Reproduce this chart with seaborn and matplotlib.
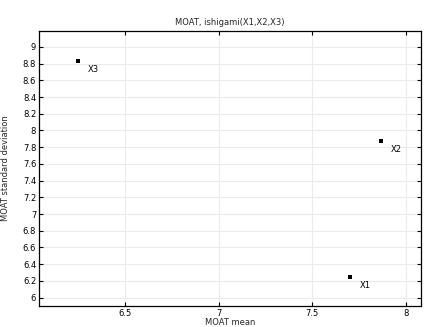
import matplotlib
matplotlib.use("Agg")
import matplotlib.pyplot as plt
import seaborn as sns
import pandas as pd

names = ["X1", "X2", "X3"]
moat_mean = [7.703, 7.866, 6.249]
moat_std = [6.25, 7.877, 8.833]
xticks = [6.5, 7, 7.5, 8]
xticklabels = ["6.5", "7", "7.5", "8"]
yticks = [6, 6.2, 6.4, 6.6, 6.8, 7, 7.2, 7.4, 7.6, 7.8, 8, 8.2, 8.4, 8.6, 8.8, 9]
yticklabels = ["6", "6.2", "6.4", "6.6", "6.8", "7", "7.2", "7.4", "7.6", "7.8", "8", "8.2", "8.4", "8.6", "8.8", "9"]

df = pd.DataFrame({"name": names, "mean": moat_mean, "std": moat_std})

sns.set_theme(style="white")
plt.rcParams['font.family'] = ['DejaVu Sans']

fig = plt.figure(figsize=(4.26, 3.27), dpi=100)
ax = fig.add_axes([39/426, 1 - 306/327, (421-39)/426, (306-31)/327])

sns.scatterplot(data=df, x="mean", y="std", ax=ax, marker="s", s=8,
                color="black", edgecolor="black", linewidth=0, zorder=3)
for n, xv, yv in zip(names, moat_mean, moat_std):
    ax.annotate(n, (xv, yv), xytext=(7, -6), textcoords="offset points",
                fontsize=6, color="black", va="center", ha="left")

ax.set_xlim(6.04, 8.08)
ax.set_ylim(5.9, 9.19)
ax.set_xticks(xticks)
ax.set_xticklabels(xticklabels)
ax.set_yticks(yticks)
ax.set_yticklabels(yticklabels)
ax.grid(True, color="#ebebeb", linewidth=0.8)
ax.set_axisbelow(True)
ax.tick_params(direction="in", length=3, width=0.8, labelsize=6, colors="black",
               top=True, right=True, bottom=True, left=True, pad=2)
for s in ax.spines.values():
    s.set_color("black")
    s.set_linewidth(0.9)
ax.set_xlabel("MOAT mean", fontsize=6, labelpad=0)
ax.set_ylabel("MOAT standard deviation", fontsize=6, labelpad=9)
ax.set_title("MOAT, ishigami(X1,X2,X3)", fontsize=6, pad=4)

fig.savefig("out.png", dpi=100)
